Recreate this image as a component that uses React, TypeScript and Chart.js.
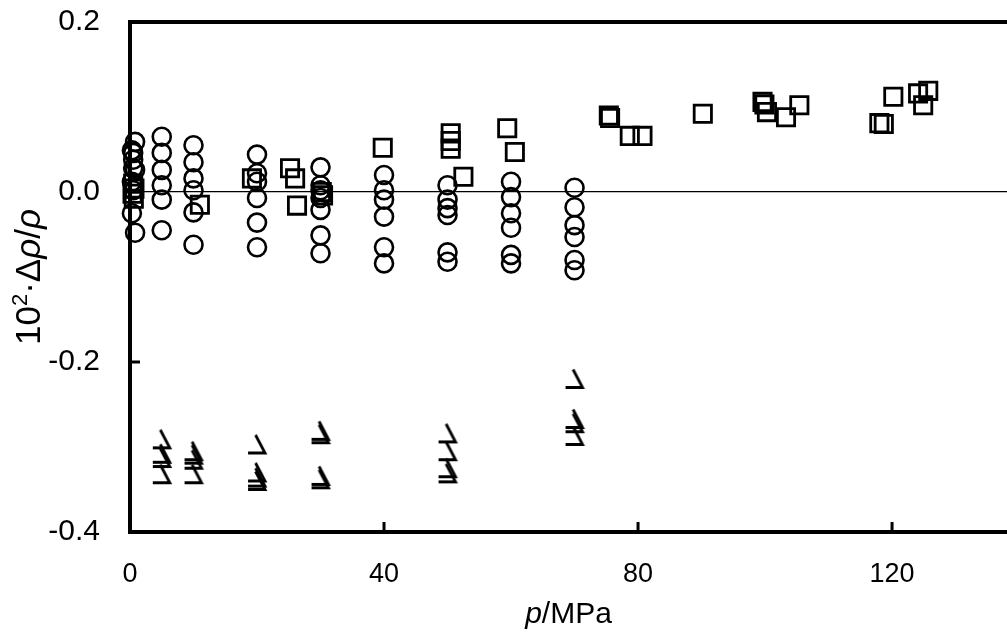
import React, { useEffect, useRef } from "react";
import { Chart, registerables } from "chart.js";

Chart.register(...registerables);

// Axis ranges and tick labels
const xMin = 0;
const xMax = 138.1;
const xStep = 40;
const yMin = -0.4;
const yMax = 0.2;
const yStep = 0.2;

// Series 1: open circles  [p/MPa, 10^2·Δρ/ρ]
const circlePoints: [number, number][] = [
  [0.8, 0.059], [0.3, 0.049], [0.5, 0.046], [0.5, 0.038], [0.5, 0.028], [0.8, 0.026],
  [0.3, 0.012], [0.5, 0.002], [0.3, -0.025], [0.8, -0.048],
  [5, 0.065], [5, 0.046], [5, 0.026], [5, 0.008], [5, -0.009], [5, -0.045],
  [10, 0.055], [10, 0.035], [10, 0.016], [10, 0.002], [10, -0.024], [10, -0.062],
  [20, 0.044], [20, 0.022], [20, 0.012], [20, -0.007], [20, -0.036], [20, -0.065],
  [30, 0.029], [30, 0.008], [30, 0.002], [30, -0.007], [30, -0.021], [30, -0.051], [30, -0.072],
  [40, 0.020], [40, 0.002], [40, -0.009], [40, -0.029], [40, -0.065], [40, -0.084],
  [50, 0.008], [50, -0.009], [50, -0.019], [50, -0.027], [50, -0.071], [50, -0.082],
  [60, 0.012], [60, -0.006], [60, -0.025], [60, -0.042], [60, -0.074], [60, -0.084],
  [70, 0.005], [70, -0.018], [70, -0.039], [70, -0.053], [70, -0.080], [70, -0.092],
];

// Series 2: open squares
const squarePoints: [number, number][] = [
  [0.5, 0.010], [0.7, 0.004], [0.4, -0.002], [0.6, -0.008],
  [11, -0.015], [19.2, 0.016],
  [25.2, 0.028], [26, 0.016], [26.3, -0.016],
  [30.2, 0.0], [30.4, -0.004],
  [39.8, 0.052],
  [50.5, 0.069], [50.5, 0.060], [50.5, 0.051], [52.5, 0.018],
  [59.4, 0.075], [60.6, 0.047],
  [75.4, 0.090], [75.6, 0.087], [78.7, 0.066], [80.7, 0.066],
  [90.2, 0.092],
  [99.6, 0.106], [99.9, 0.103], [100.3, 0.094], [103.3, 0.088], [105.4, 0.102],
  [118, 0.081], [118.7, 0.080], [120.2, 0.112], [124.1, 0.116], [124.9, 0.102], [125.7, 0.119],
];

// Series 3: half-open triangles
const trianglePoints: [number, number][] = [
  [5, -0.291], [5, -0.308], [5, -0.313], [5, -0.332],
  [10, -0.305], [10, -0.309], [10, -0.315], [10, -0.332],
  [20, -0.297], [20, -0.330], [20, -0.336], [20, -0.340],
  [30, -0.281], [30, -0.285], [30, -0.334], [30, -0.338],
  [50, -0.284], [50, -0.305], [50, -0.325], [50, -0.331],
  [70, -0.220], [70, -0.267], [70, -0.272], [70, -0.287],
];

const FONT = '"Liberation Sans", Arial, sans-serif';
const X_TICK_SIZE = 27;
const Y_TICK_SIZE = 30;
const X_TITLE_SIZE = 30;
const Y_TITLE_SIZE = 35;

type Seg = { t: string; i?: boolean; sup?: boolean };
const xTitle: Seg[] = [{ t: "p", i: true }, { t: "/MPa" }];
const yTitle: Seg[] = [
  { t: "10" }, { t: "2", sup: true }, { t: "·Δ" }, { t: "ρ", i: true }, { t: "/" }, { t: "ρ", i: true },
];

function drawRich(ctx: CanvasRenderingContext2D, segs: Seg[], cx: number, baseY: number, size: number) {
  const fontOf = (s: Seg) => `${s.i ? "italic " : ""}${s.sup ? Math.round(size * 0.62) : size}px ${FONT}`;
  const widths = segs.map((s) => {
    ctx.font = fontOf(s);
    return ctx.measureText(s.t).width;
  });
  const total = widths.reduce((a, b) => a + b, 0);
  let x = cx - total / 2;
  ctx.textAlign = "left";
  ctx.textBaseline = "alphabetic";
  segs.forEach((s, k) => {
    ctx.font = fontOf(s);
    ctx.fillText(s.t, x, s.sup ? baseY - size * 0.36 : baseY);
    x += widths[k];
  });
}

function makeTriangleMarker(): HTMLCanvasElement {
  const c = document.createElement("canvas");
  c.width = 22;
  c.height = 22;
  const g = c.getContext("2d")!;
  g.strokeStyle = "#000";
  g.lineWidth = 2.8;
  g.lineJoin = "miter";
  g.beginPath();
  g.moveTo(9.5, 1.5);
  g.lineTo(19, 19.5);
  g.lineTo(2, 19.5);
  g.stroke();
  return c;
}

const framePlugin = {
  id: "frameTicksTitles",
  beforeDatasetsDraw(chart: any) {
    const ctx: CanvasRenderingContext2D = chart.ctx;
    const { left, right, top } = chart.chartArea;
    ctx.save();
    ctx.strokeStyle = "#000";
    ctx.lineWidth = 4;
    ctx.beginPath();
    ctx.moveTo(left - 2, top);
    ctx.lineTo(right, top);
    ctx.stroke();
    ctx.restore();
  },
  afterDraw(chart: any) {
    const ctx: CanvasRenderingContext2D = chart.ctx;
    const xs = chart.scales.x;
    const ys = chart.scales.y;
    const { left, right, top, bottom } = chart.chartArea;
    ctx.save();
    ctx.strokeStyle = "#000";
    ctx.lineWidth = 3;
    xs.ticks.forEach((t: any) => {
      if (t.value <= xMin + 1e-9) return;
      const px = xs.getPixelForValue(t.value);
      ctx.beginPath();
      ctx.moveTo(px, bottom);
      ctx.lineTo(px, bottom - 10);
      ctx.stroke();
    });
    ys.ticks.forEach((t: any) => {
      if (t.value <= yMin + 1e-9 || t.value >= yMax - 1e-9) return;
      const py = ys.getPixelForValue(t.value);
      ctx.beginPath();
      ctx.moveTo(left, py);
      ctx.lineTo(left + 10, py);
      ctx.stroke();
    });
    ctx.fillStyle = "#000";
    drawRich(ctx, xTitle, (left + right) / 2, 623, X_TITLE_SIZE);
    ctx.translate(40, (top + bottom) / 2);
    ctx.rotate(-Math.PI / 2);
    drawRich(ctx, yTitle, 0, 0, Y_TITLE_SIZE);
    ctx.restore();
  },
};

export default function App() {
  const ref = useRef<HTMLCanvasElement>(null);
  useEffect(() => {
    if (!ref.current) return;
    const tri = makeTriangleMarker();
    const toXY = (arr: [number, number][]) => arr.map(([x, y]) => ({ x, y }));
    const chart = new Chart(ref.current, {
      type: "scatter",
      data: {
        datasets: [
          {
            label: "circles",
            data: toXY(circlePoints),
            pointStyle: "circle",
            pointRadius: 9,
            borderWidth: 2.6,
            borderColor: "#000",
            backgroundColor: "rgba(0,0,0,0)",
            clip: false as any,
          },
          {
            label: "squares",
            data: toXY(squarePoints),
            pointStyle: "rect",
            pointRadius: 12.2,
            borderWidth: 2.8,
            borderColor: "#000",
            backgroundColor: "rgba(0,0,0,0)",
            clip: false as any,
          },
          {
            label: "triangles",
            data: toXY(trianglePoints),
            pointStyle: tri as any,
            pointRadius: 10,
            borderColor: "#000",
            clip: false as any,
          },
        ],
      },
      options: {
        responsive: false,
        animation: false,
        events: [],
        devicePixelRatio: 1,
        layout: { autoPadding: false, padding: 0 },
        plugins: {
          legend: { display: false },
          title: { display: false },
          subtitle: { display: false },
          tooltip: { enabled: false },
        },
        scales: {
          x: {
            type: "linear",
            position: "bottom",
            min: xMin,
            max: xMax,
            afterFit: (s: any) => {
              s.height = 101;
              s.paddingLeft = 0;
              s.paddingRight = 0;
            },
            ticks: {
              stepSize: xStep,
              includeBounds: false,
              color: "#000",
              font: { family: FONT, size: X_TICK_SIZE },
              padding: 26,
              maxRotation: 0,
            },
            grid: { display: false, drawTicks: false },
            border: { display: true, color: "#000", width: 4 },
          },
          y: {
            type: "linear",
            position: "left",
            min: yMin,
            max: yMax,
            afterFit: (s: any) => {
              s.width = 130;
              s.paddingTop = 22;
              s.paddingBottom = 0;
            },
            ticks: {
              stepSize: yStep,
              includeBounds: false,
              color: "#000",
              font: { family: FONT, size: Y_TICK_SIZE },
              padding: 30,
              callback: (v: any) => (Math.abs(Number(v)) < 1e-9 ? "0.0" : Number(v).toFixed(1)),
            },
            grid: {
              display: true,
              drawTicks: false,
              color: (c: any) => (c.tick && Math.abs(c.tick.value) < 1e-9 ? "#000" : "rgba(0,0,0,0)"),
              lineWidth: 1.2,
            },
            border: { display: true, color: "#000", width: 4 },
          },
        },
      },
      plugins: [framePlugin],
    } as any);
    return () => chart.destroy();
  }, []);
  return (
    <div style={{ position: "absolute", left: 0, top: 0, width: 1007, height: 633, background: "#fff" }}>
      <canvas ref={ref} width={1007} height={633} style={{ width: 1007, height: 633, display: "block" }} />
    </div>
  );
}
